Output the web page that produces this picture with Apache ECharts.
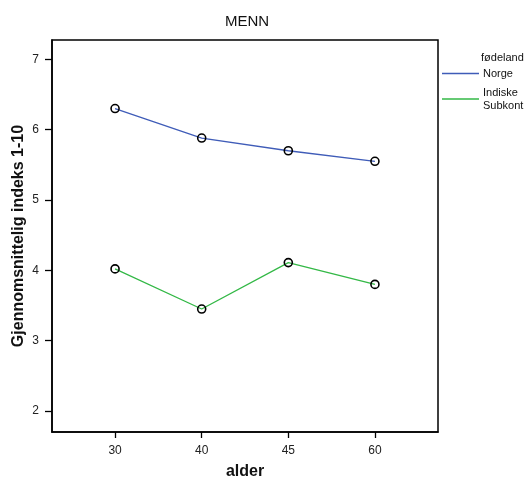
<!DOCTYPE html>
<html>
<head>
<meta charset="utf-8">
<script src="https://cdn.jsdelivr.net/npm/echarts@6/dist/echarts.min.js"></script>
<style>html,body{margin:0;padding:0;background:#fff}#c{width:528px;height:480px}</style>
</head>
<body>
<div id="c"></div>
<script>
var categories = ['30', '40', '45', '60'];
var norge = [6.30, 5.88, 5.70, 5.55];
var indiske = [4.02, 3.45, 4.11, 3.80];
var yTicks = [2, 3, 4, 5, 6, 7];
var seriesNames = ['Norge', 'Indiske\nSubkont'];
var seriesColors = ['#3f5cb8', '#33b846'];

var font = 'Liberation Sans, Arial, sans-serif';
var idx = categories.map(function (c, i) { return i; });
function pts(vals) { return vals.map(function (v, i) { return [i, v]; }); }

var chart = echarts.init(document.getElementById('c'), null, { renderer: 'canvas' });
function mkSeries(k, vals) {
  return {
    name: seriesNames[k], type: 'line', data: pts(vals), z: 3,
    symbol: 'circle', symbolSize: 8,
    lineStyle: { color: seriesColors[k], width: 1.3 },
    itemStyle: { color: 'rgba(0,0,0,0)', borderColor: '#000', borderWidth: 1.6 }
  };
}
chart.setOption({
  animation: false,
  backgroundColor: '#fff',
  title: [
    { text: 'MENN', left: 242, top: 9, textAlign: 'center',
      textStyle: { fontFamily: font, fontSize: 15, fontWeight: 'normal', color: '#111' } },
    { text: 'fødeland', left: 476, top: 47,
      textStyle: { fontFamily: font, fontSize: 11, fontWeight: 'normal', color: '#111' } }
  ],
  legend: {
    orient: 'vertical', left: 442, top: 67, padding: 0, itemWidth: 37, itemHeight: 1.5, itemGap: 6,
    data: seriesNames.map(function (n, k) {
      return { name: n, icon: 'rect', itemStyle: { color: seriesColors[k], borderWidth: 0 } };
    }),
    textStyle: { fontFamily: font, fontSize: 11, color: '#111', lineHeight: 13, padding: [0, 0, 0, -1] }
  },
  grid: { left: 52, right: 90, top: 40, bottom: 48, outerBoundsMode: 'none', containLabel: false,
    show: true, borderColor: '#000', borderWidth: 1.5, backgroundColor: 'transparent' },
  xAxis: {
    type: 'value', min: -0.728, max: 3.728,
    name: 'alder', nameLocation: 'middle', nameGap: 32,
    nameTextStyle: { fontFamily: font, fontSize: 16, fontWeight: 'bold', color: '#111' },
    axisLine: { show: true, onZero: false, lineStyle: { color: '#000', width: 1.5 } },
    axisTick: { show: true, length: 6, customValues: idx, lineStyle: { color: '#000', width: 1.3 } },
    axisLabel: { customValues: idx, margin: 13, fontFamily: font, fontSize: 12, color: '#222',
      formatter: function (v) { return categories[Math.round(v)]; } },
    splitLine: { show: false }
  },
  yAxis: {
    type: 'value', min: 1.702, max: 7.274,
    name: 'Gjennomsnittelig indeks 1-10', nameLocation: 'middle', nameGap: 25, nameMoveOverlap: false,
    nameTextStyle: { fontFamily: font, fontSize: 16, fontWeight: 'bold', color: '#111' },
    axisLine: { show: true, onZero: false, lineStyle: { color: '#000', width: 1.5 } },
    axisTick: { show: true, length: 7, customValues: yTicks, lineStyle: { color: '#000', width: 1.3 } },
    axisLabel: { customValues: yTicks, margin: 13, fontFamily: font, fontSize: 12, color: '#222' },
    splitLine: { show: false }
  },
  series: [mkSeries(0, norge), mkSeries(1, indiske)]
});
</script>
</body>
</html>
